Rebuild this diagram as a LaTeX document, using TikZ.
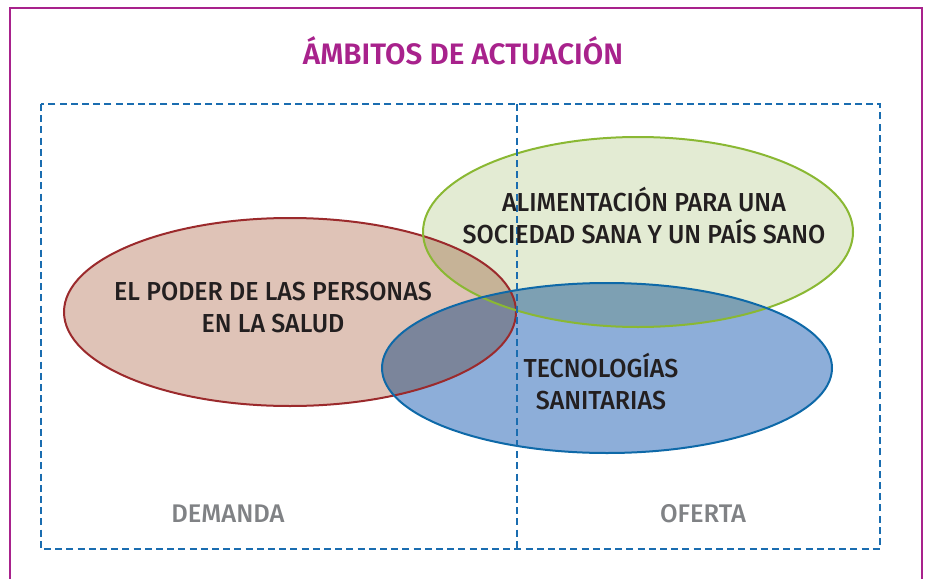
\documentclass[tikz,border=0pt]{standalone}
\usepackage{fontspec}
\setmainfont{Fira Sans}
\newfontfamily\ambfont{Fira Sans Medium}
\newfontfamily\areafont{Fira Sans Medium}[FakeStretch=0.96]
\newfontfamily\titlefont{Fira Sans SemiBold}
\usetikzlibrary{positioning,calc}

\definecolor{framemagenta}{HTML}{A8228C}
\definecolor{dashblue}{HTML}{1A6DB0}
\definecolor{labelgray}{HTML}{808285}
\definecolor{textdark}{HTML}{231F20}
\definecolor{saludfill}{HTML}{DFC3B7}
\definecolor{saludline}{HTML}{9B2A2C}
\definecolor{alimfill}{HTML}{E3EBD3}
\definecolor{alimline}{HTML}{8AB833}
\definecolor{tecnofill}{HTML}{8DAED9}
\definecolor{tecnoline}{HTML}{0E69A8}

\begin{document}
\begin{tikzpicture}[x=1pt,y=-1pt,
    areatext/.style={font=\areafont\fontsize{26}{32}\selectfont, text=textdark, align=center, inner sep=0pt},
    sidetext/.style={font=\ambfont\fontsize{25.5}{30}\selectfont, text=labelgray, inner sep=0pt},
    ovalline/.style={line width=2pt},
    boxline/.style={dashblue, line width=2.6pt, dash pattern=on 7pt off 4.2pt}]
    \useasboundingbox (0,0) rectangle (928,578);

    % Outer frame (open at the bottom)
    \draw[framemagenta, line width=2.6pt] (10,590) -- (10,8) -- (922,8) -- (922,590);
    \node[font=\titlefont\fontsize{29.6}{34}\selectfont, text=framemagenta, inner sep=0pt] (titulo) at (463,51) {ÁMBITOS DE ACTUACIÓN};

    % Areas
    \begin{scope}[blend mode=multiply]
        \fill[saludfill] (290,312) ellipse [x radius=226pt, y radius=94pt];
        \fill[alimfill] (638,232) ellipse [x radius=215pt, y radius=95pt];
        \fill[tecnofill] (607,368) ellipse [x radius=225pt, y radius=85pt];
    \end{scope}
    \draw[ovalline, saludline] (290,312) ellipse [x radius=226pt, y radius=94pt];
    \draw[ovalline, alimline] (638,232) ellipse [x radius=215pt, y radius=95pt];
    \draw[ovalline, tecnoline] (607,368) ellipse [x radius=225pt, y radius=85pt];

    % Demand / supply boxes
    \draw[boxline] (41,104) rectangle (880,549);
    \draw[boxline] (517,104) -- (517,549);

    \node[areatext] (personas) at (273,308) {EL PODER DE LAS PERSONAS\\EN LA SALUD};
    \node[areatext] (alimentacion) at (644,216) {ALIMENTACIÓN PARA UNA\\SOCIEDAD SANA Y UN PAÍS SANO};
    \node[areatext] (tecnologias) at (601,382) {TECNOLOGÍAS\\SANITARIAS};

    \node[sidetext] (demanda) at (228,514) {DEMANDA};
    \node[sidetext] (oferta) at (703,514) {OFERTA};
\end{tikzpicture}
\end{document}
